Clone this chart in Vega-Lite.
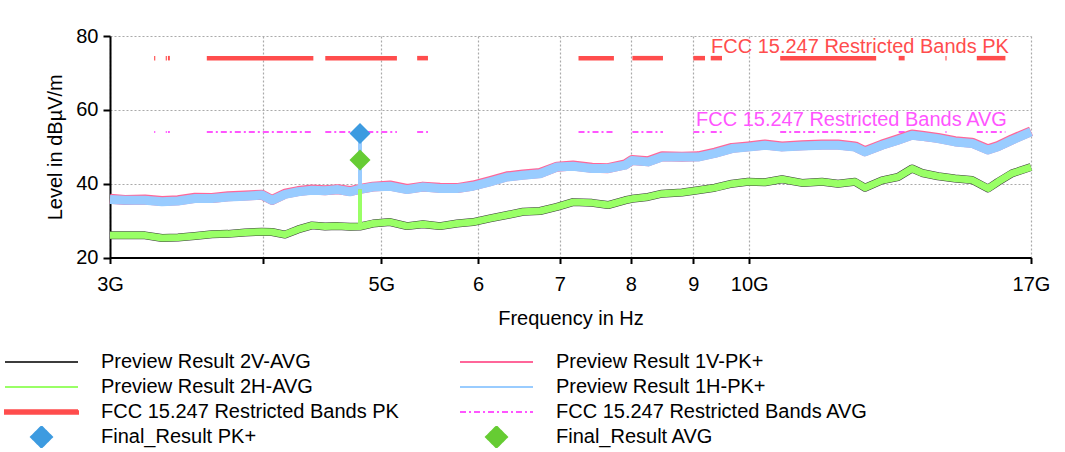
{
  "$schema": "https://vega.github.io/schema/vega-lite/v6.json",
  "width": 921,
  "height": 221.5,
  "autosize": {"type": "none"},
  "padding": {"left": 110, "top": 36, "right": 34, "bottom": 194.5},
  "background": "white",
  "config": {
    "view": {"stroke": null},
    "font": "Liberation Sans",
    "axis": {
      "domainColor": "#000000", "domainWidth": 2,
      "tickColor": "#000000", "tickWidth": 2,
      "labelFont": "Liberation Sans", "labelFontSize": 20, "labelColor": "#000000",
      "titleFont": "Liberation Sans", "titleFontSize": 20, "titleFontWeight": "normal", "titleColor": "#000000",
      "grid": true, "gridColor": "#aaaaaa", "gridDash": [2, 2], "gridWidth": 1.2
    }
  },
  "datasets": {
    "limits": [
      {"f1": 3.26, "f2": 3.267}, {"f1": 3.332, "f2": 3.339}, {"f1": 3.3458, "f2": 3.358},
      {"f1": 3.6, "f2": 4.4}, {"f1": 4.5, "f2": 5.15}, {"f1": 5.35, "f2": 5.46},
      {"f1": 7.25, "f2": 7.75}, {"f1": 8.025, "f2": 8.5}, {"f1": 9.0, "f2": 9.2},
      {"f1": 9.3, "f2": 9.5}, {"f1": 10.6, "f2": 12.7}, {"f1": 13.25, "f2": 13.4},
      {"f1": 14.47, "f2": 14.5}, {"f1": 15.35, "f2": 16.2}
    ],
    "traces": [
      {"f": 3.000, "v2v": 26.0, "v2h": 26.0, "v1v": 35.9, "v1h": 35.7},
      {"f": 3.086, "v2v": 26.0, "v2h": 26.0, "v1v": 35.6, "v1h": 35.5},
      {"f": 3.204, "v2v": 26.0, "v2h": 26.0, "v1v": 35.7, "v1h": 35.5},
      {"f": 3.309, "v2v": 25.3, "v2h": 25.3, "v1v": 35.3, "v1h": 35.1},
      {"f": 3.410, "v2v": 25.4, "v2h": 25.4, "v1v": 35.5, "v1h": 35.3},
      {"f": 3.521, "v2v": 25.8, "v2h": 25.8, "v1v": 36.2, "v1h": 36.0},
      {"f": 3.635, "v2v": 26.3, "v2h": 26.3, "v1v": 36.1, "v1h": 36.0},
      {"f": 3.747, "v2v": 26.4, "v2h": 26.4, "v1v": 36.6, "v1h": 36.4},
      {"f": 3.869, "v2v": 26.8, "v2h": 26.8, "v1v": 36.8, "v1h": 36.6},
      {"f": 3.994, "v2v": 27.0, "v2h": 27.0, "v1v": 37.0, "v1h": 36.9},
      {"f": 4.070, "v2v": 26.9, "v2h": 26.9, "v1v": 35.6, "v1h": 35.5},
      {"f": 4.171, "v2v": 26.2, "v2h": 26.2, "v1v": 37.3, "v1h": 37.1},
      {"f": 4.275, "v2v": 27.6, "v2h": 27.6, "v1v": 38.0, "v1h": 37.8},
      {"f": 4.389, "v2v": 28.7, "v2h": 28.7, "v1v": 38.4, "v1h": 38.2},
      {"f": 4.498, "v2v": 28.4, "v2h": 28.4, "v1v": 38.2, "v1h": 38.1},
      {"f": 4.609, "v2v": 28.5, "v2h": 28.5, "v1v": 38.5, "v1h": 38.4},
      {"f": 4.714, "v2v": 28.3, "v2h": 28.3, "v1v": 38.0, "v1h": 37.8},
      {"f": 4.804, "v2v": 28.4, "v2h": 28.4, "v1v": 38.6, "v1h": 38.5},
      {"f": 4.923, "v2v": 29.2, "v2h": 29.2, "v1v": 39.2, "v1h": 39.1},
      {"f": 5.083, "v2v": 29.6, "v2h": 29.6, "v1v": 39.5, "v1h": 39.3},
      {"f": 5.249, "v2v": 28.5, "v2h": 28.5, "v1v": 38.6, "v1h": 38.4},
      {"f": 5.409, "v2v": 29.0, "v2h": 29.0, "v1v": 39.2, "v1h": 39.1},
      {"f": 5.585, "v2v": 28.5, "v2h": 28.5, "v1v": 38.9, "v1h": 38.7},
      {"f": 5.767, "v2v": 29.2, "v2h": 29.2, "v1v": 38.8, "v1h": 38.7},
      {"f": 5.943, "v2v": 29.6, "v2h": 29.6, "v1v": 39.5, "v1h": 39.3},
      {"f": 6.137, "v2v": 30.6, "v2h": 30.6, "v1v": 40.7, "v1h": 40.5},
      {"f": 6.337, "v2v": 31.5, "v2h": 31.5, "v1v": 42.0, "v1h": 41.8},
      {"f": 6.530, "v2v": 32.4, "v2h": 32.4, "v1v": 42.5, "v1h": 42.3},
      {"f": 6.743, "v2v": 32.6, "v2h": 32.6, "v1v": 42.9, "v1h": 42.7},
      {"f": 6.962, "v2v": 33.7, "v2h": 33.7, "v1v": 44.6, "v1h": 44.5},
      {"f": 7.175, "v2v": 35.0, "v2h": 35.0, "v1v": 44.9, "v1h": 44.7},
      {"f": 7.437, "v2v": 34.8, "v2h": 34.8, "v1v": 44.3, "v1h": 44.1},
      {"f": 7.664, "v2v": 34.2, "v2h": 34.2, "v1v": 44.2, "v1h": 44.1},
      {"f": 7.914, "v2v": 35.5, "v2h": 35.5, "v1v": 45.2, "v1h": 45.0},
      {"f": 8.019, "v2v": 35.9, "v2h": 35.9, "v1v": 46.4, "v1h": 46.3},
      {"f": 8.264, "v2v": 36.4, "v2h": 36.4, "v1v": 46.1, "v1h": 45.9},
      {"f": 8.485, "v2v": 37.3, "v2h": 37.3, "v1v": 47.4, "v1h": 47.2},
      {"f": 8.810, "v2v": 37.6, "v2h": 37.6, "v1v": 47.3, "v1h": 47.2},
      {"f": 9.080, "v2v": 38.2, "v2h": 38.2, "v1v": 47.4, "v1h": 47.2},
      {"f": 9.375, "v2v": 38.9, "v2h": 38.9, "v1v": 48.4, "v1h": 48.2},
      {"f": 9.680, "v2v": 40.0, "v2h": 40.0, "v1v": 49.7, "v1h": 49.5},
      {"f": 9.976, "v2v": 40.5, "v2h": 40.5, "v1v": 50.1, "v1h": 49.9},
      {"f": 10.301, "v2v": 40.4, "v2h": 40.4, "v1v": 50.6, "v1h": 50.4},
      {"f": 10.636, "v2v": 41.2, "v2h": 41.2, "v1v": 50.1, "v1h": 49.9},
      {"f": 11.045, "v2v": 40.2, "v2h": 40.2, "v1v": 50.4, "v1h": 50.2},
      {"f": 11.469, "v2v": 40.5, "v2h": 40.5, "v1v": 50.6, "v1h": 50.4},
      {"f": 11.819, "v2v": 40.0, "v2h": 40.0, "v1v": 50.6, "v1h": 50.4},
      {"f": 12.204, "v2v": 40.5, "v2h": 40.5, "v1v": 50.1, "v1h": 49.9},
      {"f": 12.436, "v2v": 38.9, "v2h": 38.9, "v1v": 48.8, "v1h": 48.6},
      {"f": 12.841, "v2v": 40.9, "v2h": 40.9, "v1v": 50.6, "v1h": 50.4},
      {"f": 13.234, "v2v": 41.8, "v2h": 41.8, "v1v": 52.0, "v1h": 51.8},
      {"f": 13.587, "v2v": 44.1, "v2h": 44.1, "v1v": 53.3, "v1h": 53.1},
      {"f": 13.845, "v2v": 42.9, "v2h": 42.9, "v1v": 53.0, "v1h": 52.8},
      {"f": 14.269, "v2v": 42.0, "v2h": 42.0, "v1v": 52.4, "v1h": 52.2},
      {"f": 14.733, "v2v": 41.4, "v2h": 41.4, "v1v": 51.5, "v1h": 51.3},
      {"f": 15.213, "v2v": 41.0, "v2h": 41.0, "v1v": 51.1, "v1h": 50.9},
      {"f": 15.678, "v2v": 38.7, "v2h": 38.7, "v1v": 49.3, "v1h": 49.1},
      {"f": 15.976, "v2v": 40.5, "v2h": 40.5, "v1v": 50.2, "v1h": 50.0},
      {"f": 16.403, "v2v": 42.8, "v2h": 42.8, "v1v": 52.0, "v1h": 51.8},
      {"f": 17.000, "v2v": 44.5, "v2h": 44.5, "v1v": 54.2, "v1h": 54.0}
    ],
    "spikes": [
      {"series": "Preview Result 2H-AVG", "f": 4.804, "v": 28.4, "v2": 46.4},
      {"series": "Preview Result 1V-PK+", "f": 4.804, "v": 38.5, "v2": 52.5},
      {"series": "Preview Result 1H-PK+", "f": 4.804, "v": 38.5, "v2": 51.5}
    ],
    "finals": [
      {"series": "Final_Result PK+", "f": 4.804, "v": 53.6},
      {"series": "Final_Result AVG", "f": 4.804, "v": 46.4}
    ],
    "labels": [
      {"series": "FCC 15.247 Restricted Bands PK", "label": "FCC 15.247 Restricted Bands PK", "f": 9.305, "v": 77.0},
      {"series": "FCC 15.247 Restricted Bands AVG", "label": "FCC 15.247 Restricted Bands AVG", "f": 9.046, "v": 57.2}
    ]
  },
  "layer": [
    {
      "data": {"name": "limits"},
      "mark": {"type": "rule", "strokeWidth": 4.5, "strokeCap": "butt"},
      "encoding": {
        "x": {"field": "f1", "type": "quantitative",
          "scale": {"type": "log", "domain": [3, 17], "nice": false},
          "axis": {"values": [3, 4, 5, 6, 7, 8, 9, 10, 17],
            "labelExpr": "datum.value == 3 ? '3G' : datum.value == 5 ? '5G' : datum.value == 10 ? '10G' : datum.value == 17 ? '17G' : datum.value == 4 ? '' : '' + datum.value",
            "title": "Frequency in Hz", "labelFlush": false, "labelOverlap": false,
            "tickSize": 6, "labelPadding": 11, "titlePadding": 14}},
        "x2": {"field": "f2"},
        "y": {"datum": 74, "type": "quantitative",
          "scale": {"domain": [20, 80], "nice": false, "zero": false},
          "axis": {"values": [20, 30, 40, 50, 60, 70, 80],
            "labelExpr": "datum.value % 20 == 0 ? datum.label : ''",
            "title": "Level in dBµV/m", "tickSize": 7, "labelPadding": 5, "titlePadding": 10}},
        "color": {"datum": "FCC 15.247 Restricted Bands PK", "type": "nominal", "title": null,
          "scale": {"domain": ["Preview Result 2V-AVG", "Preview Result 2H-AVG", "FCC 15.247 Restricted Bands PK", "Final_Result PK+", "Preview Result 1V-PK+", "Preview Result 1H-PK+", "FCC 15.247 Restricted Bands AVG", "Final_Result AVG"],
            "range": ["#3c3c3c", "#99ff66", "#ff4d4d", "#3d9be0", "#ff6699", "#99ccff", "#ff55ff", "#66cc33"]},
          "legend": {"title": null, "orient": "none", "legendX": -106, "legendY": 315, "columns": 2,
            "padding": 0, "clipHeight": 22, "rowPadding": 3, "columnPadding": 60, "labelOffset": 22,
            "symbolSize": 5329, "symbolType": "stroke", "symbolStrokeWidth": 2,
            "labelFont": "Liberation Sans", "labelFontSize": 20, "labelColor": "#000000", "labelLimit": 600,
            "encode": {"symbols": {"update": {
              "shape": {"signal": "datum.value === 'FCC 15.247 Restricted Bands PK' ? 'M-1,-0.05L1,-0.05L1,0.05L-1,0.05Z' : (indexof(datum.value, 'Final') === 0 ? 'M-0.288,0L0,-0.288L0.288,0L0,0.288Z' : 'stroke')"},
              "fill": {"signal": "(datum.value === 'FCC 15.247 Restricted Bands PK' || indexof(datum.value, 'Final') === 0) ? scale('color', datum.value) : 'transparent'"},
              "stroke": {"signal": "(datum.value === 'FCC 15.247 Restricted Bands PK' || indexof(datum.value, 'Final') === 0) ? 'transparent' : scale('color', datum.value)"},
              "strokeDash": {"signal": "datum.value === 'FCC 15.247 Restricted Bands AVG' ? [6, 3, 2, 3] : [1, 0]"},
              "opacity": {"value": 1}
            }}}}
        }
      }
    },
    {
      "data": {"name": "limits"},
      "mark": {"type": "rule", "strokeWidth": 2, "strokeDash": [6, 3, 2, 3], "strokeCap": "butt"},
      "encoding": {
        "x": {"field": "f1", "type": "quantitative", "scale": {"type": "log", "domain": [3, 17], "nice": false}},
        "x2": {"field": "f2"},
        "y": {"datum": 54, "type": "quantitative"},
        "color": {"datum": "FCC 15.247 Restricted Bands AVG", "type": "nominal", "title": null}
      }
    },
    {
      "data": {"name": "traces"},
      "mark": {"type": "line", "strokeWidth": 8, "strokeJoin": "round"},
      "encoding": {
        "x": {"field": "f", "type": "quantitative"},
        "y": {"field": "v2v", "type": "quantitative"},
        "color": {"datum": "Preview Result 2V-AVG", "type": "nominal", "title": null}
      }
    },
    {
      "data": {"name": "traces"},
      "mark": {"type": "line", "strokeWidth": 7, "strokeJoin": "round"},
      "encoding": {
        "x": {"field": "f", "type": "quantitative"},
        "y": {"field": "v2h", "type": "quantitative"},
        "color": {"datum": "Preview Result 2H-AVG", "type": "nominal", "title": null}
      }
    },
    {
      "data": {"name": "traces"},
      "mark": {"type": "line", "strokeWidth": 10, "strokeJoin": "round"},
      "encoding": {
        "x": {"field": "f", "type": "quantitative"},
        "y": {"field": "v1v", "type": "quantitative"},
        "color": {"datum": "Preview Result 1V-PK+", "type": "nominal", "title": null}
      }
    },
    {
      "data": {"name": "traces"},
      "mark": {"type": "line", "strokeWidth": 9, "strokeJoin": "round"},
      "encoding": {
        "x": {"field": "f", "type": "quantitative"},
        "y": {"field": "v1h", "type": "quantitative"},
        "color": {"datum": "Preview Result 1H-PK+", "type": "nominal", "title": null}
      }
    },
    {
      "data": {"name": "spikes"},
      "mark": {"type": "rule", "strokeWidth": 4, "strokeCap": "butt"},
      "encoding": {
        "x": {"field": "f", "type": "quantitative"},
        "y": {"field": "v", "type": "quantitative"},
        "y2": {"field": "v2"},
        "color": {"field": "series", "type": "nominal", "title": null}
      }
    },
    {
      "data": {"name": "finals"},
      "mark": {"type": "point", "shape": "diamond", "filled": true, "size": 441, "opacity": 1},
      "encoding": {
        "x": {"field": "f", "type": "quantitative"},
        "y": {"field": "v", "type": "quantitative"},
        "color": {"field": "series", "type": "nominal", "title": null}
      }
    },
    {
      "data": {"name": "labels"},
      "mark": {"type": "text", "align": "left", "baseline": "middle", "font": "Liberation Sans", "fontSize": 20},
      "encoding": {
        "x": {"field": "f", "type": "quantitative"},
        "y": {"field": "v", "type": "quantitative"},
        "text": {"field": "label"},
        "color": {"field": "series", "type": "nominal", "title": null}
      }
    }
  ]
}
